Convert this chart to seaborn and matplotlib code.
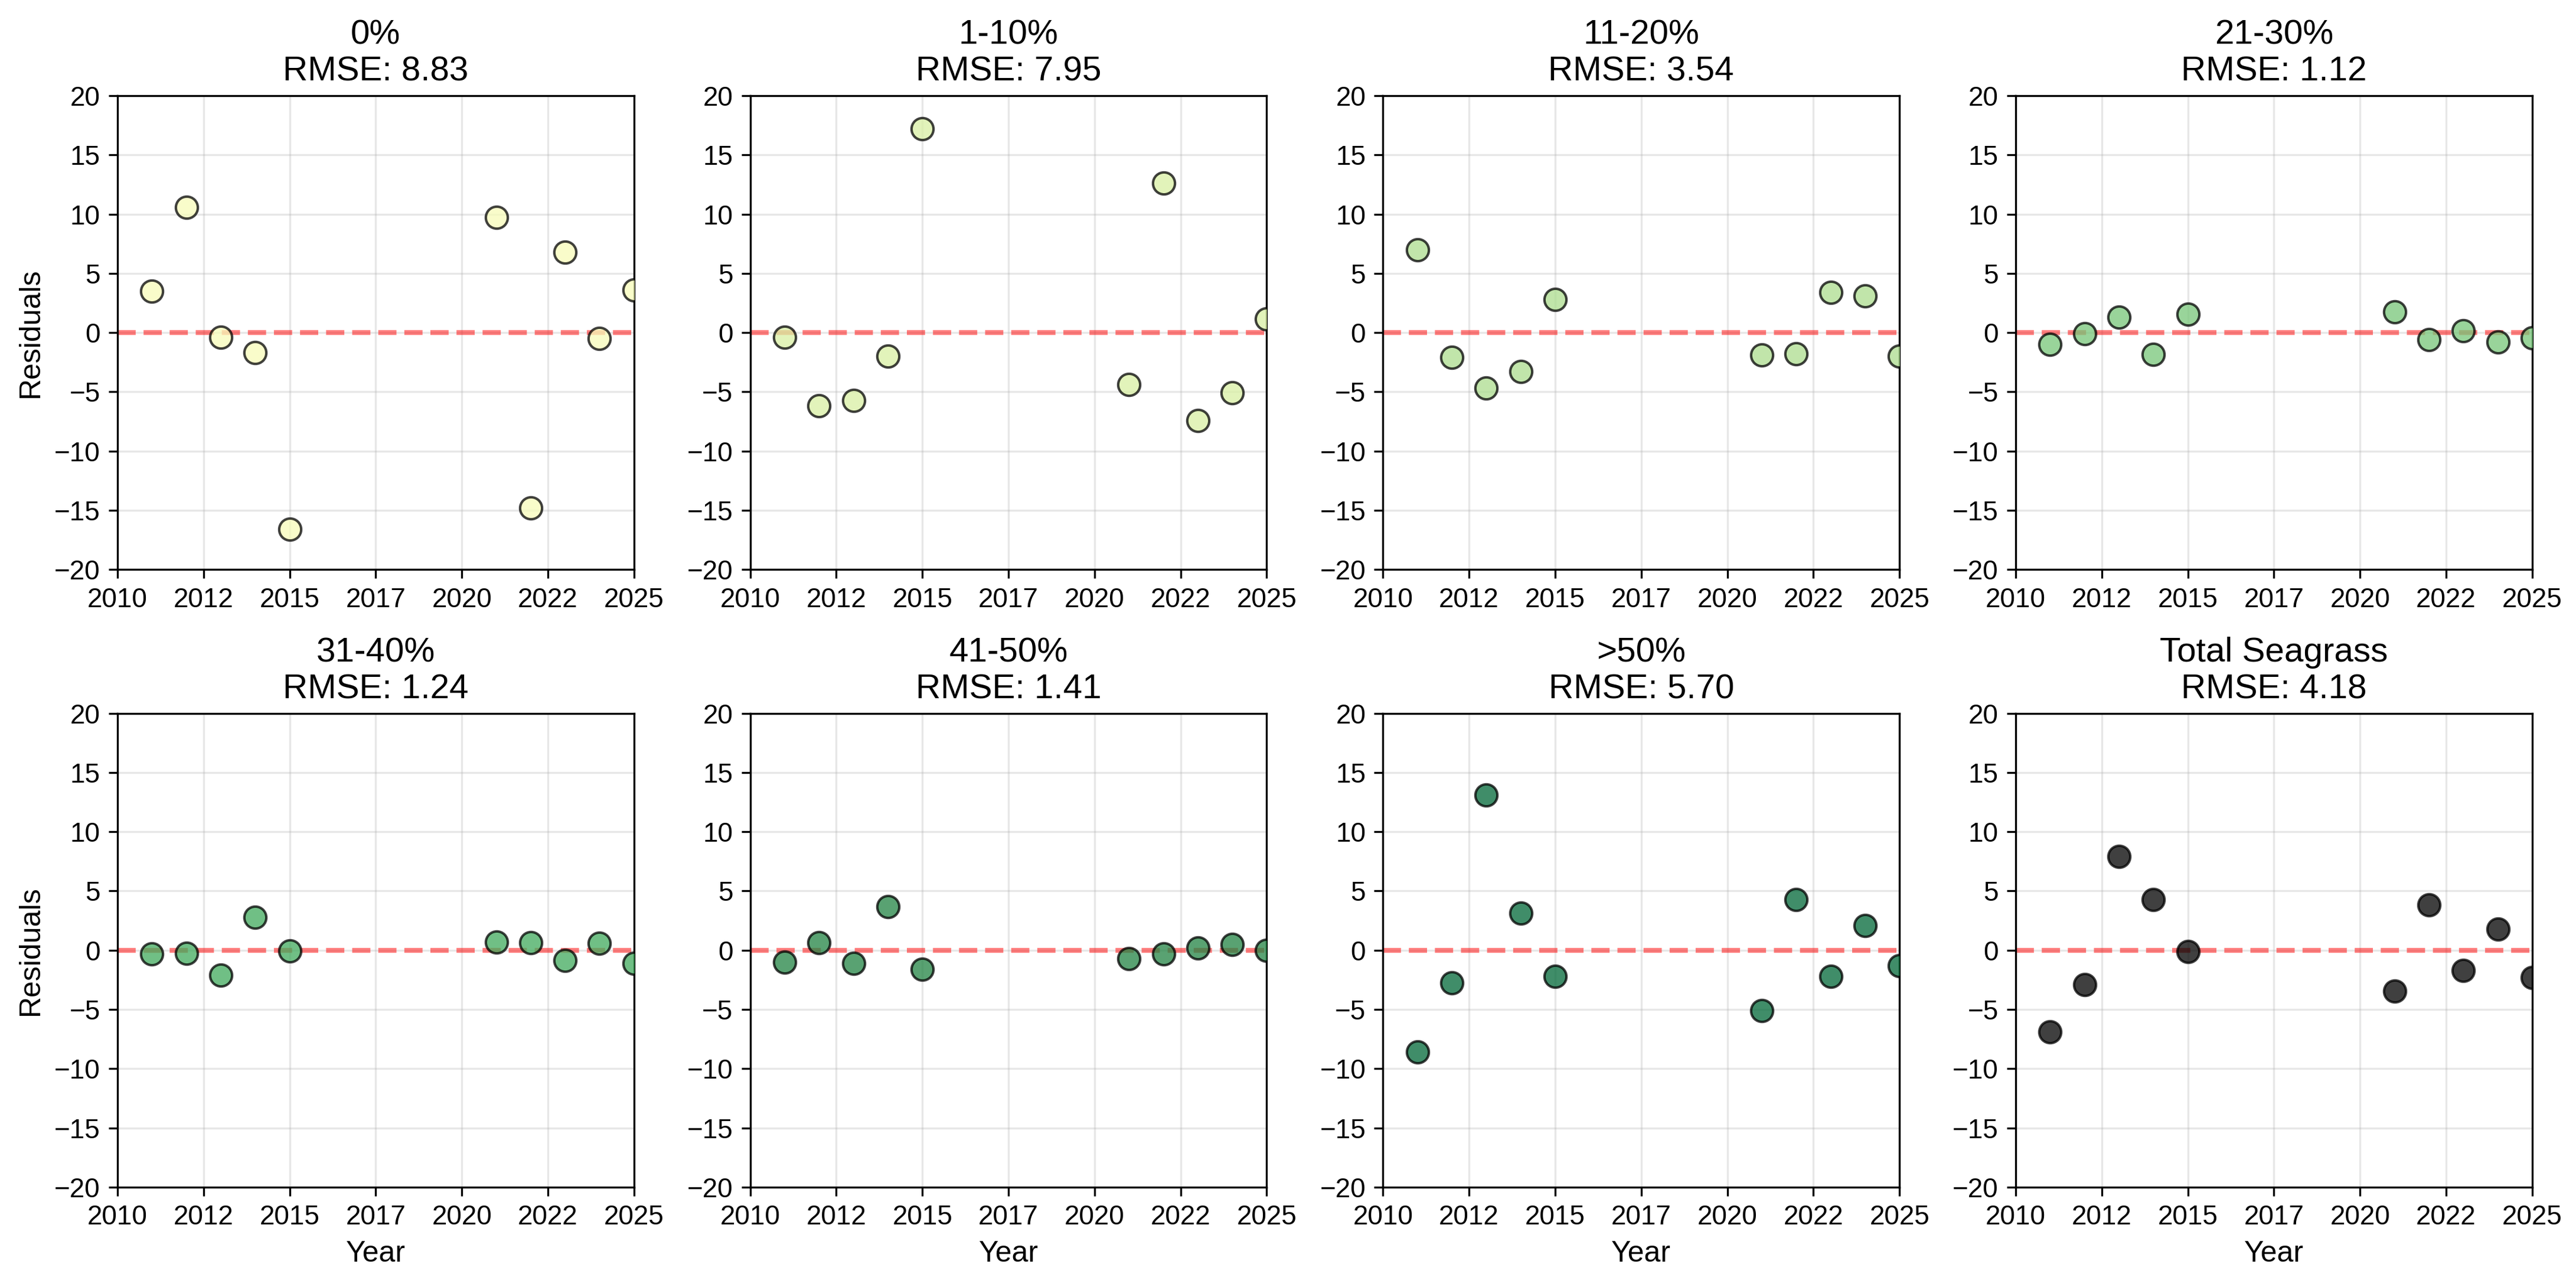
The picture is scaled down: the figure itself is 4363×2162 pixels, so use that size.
import numpy as np
import seaborn as sns
import matplotlib.pyplot as plt
from matplotlib.ticker import MultipleLocator, FuncFormatter

# Residuals per cover class
years = [2011, 2012, 2013, 2014, 2015, 2021, 2022, 2023, 2024, 2025]

class_names = ['0%', '1-10%', '11-20%', '21-30%',
               '31-40%', '41-50%', '>50%', 'Total Seagrass']

res_0 = [3.5, 10.6, -0.4, -1.7, -16.6, 9.75, -14.8, 6.8, -0.5, 3.6]
res_1_10 = [-0.37, -6.18, -5.7, -2.0, 17.2, -4.4, 12.6, -7.4, -5.07, 1.16]
res_11_20 = [7.0, -2.1, -4.7, -3.3, 2.8, -1.9, -1.8, 3.4, 3.1, -2.0]
res_21_30 = [-1.0, -0.1, 1.29, -1.83, 1.54, 1.76, -0.59, 0.14, -0.78, -0.43]
res_31_40 = [-0.3, -0.25, -2.1, 2.8, -0.05, 0.7, 0.65, -0.85, 0.6, -1.1]
res_41_50 = [-1.0, 0.65, -1.1, 3.7, -1.6, -0.7, -0.3, 0.2, 0.5, 0.0]
res_50 = [-8.6, -2.73, 13.1, 3.14, -2.2, -5.1, 4.28, -2.2, 2.1, -1.3]
res_total = [-6.9, -2.88, 7.93, 4.28, -0.1, -3.47, 3.84, -1.73, 1.77, -2.32]

residuals = [res_0, res_1_10, res_11_20, res_21_30,
             res_31_40, res_41_50, res_50, res_total]
rmse_values = [8.83, 7.95, 3.54, 1.12, 1.24, 1.41, 5.70, 4.18]

# colours: YlGn ramp for the classes, black for the total
colors = list(sns.color_palette("YlGn", 7)) + ['black']

plt.rcParams['font.family'] = ['Liberation Sans', 'DejaVu Sans']

fig, axes = plt.subplots(2, 4, figsize=(4363 / 300, 2162 / 300), dpi=300)
fig.subplots_adjust(left=0.0456, right=0.9830, top=0.9251, bottom=0.0703,
                    wspace=0.225, hspace=0.303)

for i, ax in enumerate(axes.flat):
    sns.scatterplot(x=years, y=residuals[i], ax=ax, color=colors[i],
                    s=80, edgecolor='black', linewidth=1, alpha=0.75,
                    zorder=3)
    ax.axhline(0, color='red', linestyle='--', linewidth=2, alpha=0.5, zorder=2)

    ax.set_title(f"{class_names[i]}\nRMSE: {rmse_values[i]:.2f}", fontsize=14)
    ax.set_xlim(2010, 2025)
    ax.set_ylim(-20, 20)
    ax.xaxis.set_major_locator(MultipleLocator(2.5))
    ax.xaxis.set_major_formatter(FuncFormatter(lambda v, p: f"{int(v)}"))
    ax.yaxis.set_major_locator(MultipleLocator(5))
    ax.tick_params(labelsize=11)
    ax.grid(True, alpha=0.3)
    ax.set_axisbelow(True)

    if i % 4 == 0:
        ax.set_ylabel('Residuals', fontsize=12)
    else:
        ax.set_ylabel('')
    if i >= 4:
        ax.set_xlabel('Year', fontsize=12)
    else:
        ax.set_xlabel('')

fig.savefig('out.png', dpi=300)
